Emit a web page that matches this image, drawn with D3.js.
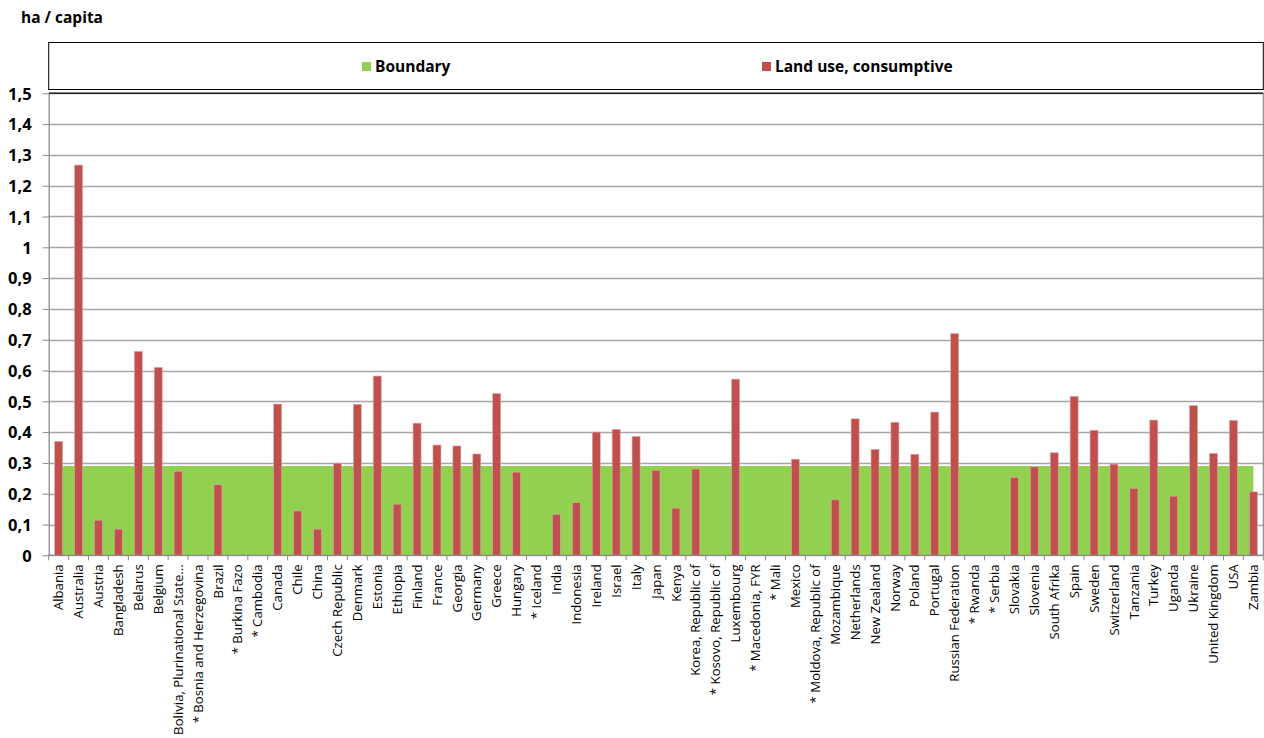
<!DOCTYPE html>
<html><head><meta charset="utf-8">
<script src="https://cdn.jsdelivr.net/npm/d3@7"></script>
<style>
body{margin:0;background:#fff;}
svg{display:block;font-family:"Open Sans",sans-serif;}
</style></head>
<body><svg id="chart" width="1264" height="738"></svg>
<script>
const categories = ["Albania","Australia","Austria","Bangladesh","Belarus","Belgium","Bolivia, Plurinational State...","* Bosnia and Herzegovina","Brazil","* Burkina Fazo","* Cambodia","Canada","Chile","China","Czech Republic","Denmark","Estonia","Ethiopia","Finland","France","Georgia","Germany","Greece","Hungary","* Iceland","India","Indonesia","Ireland","Israel","Italy","Japan","Kenya","Korea, Republic of","* Kosovo, Republic of","Luxembourg","* Macedonia, FYR","* Mali","Mexico","* Moldova, Republic of","Mozambique","Netherlands","New Zealand","Norway","Poland","Portugal","Russian Federation","* Rwanda","* Serbia","Slovakia","Slovenia","South Afrika","Spain","Sweden","Switzerland","Tanzania","Turkey","Uganda","Ukraine","United Kingdom","USA","Zambia"];
const landUse = [0.37,1.267,0.114,0.085,0.662,0.61,0.273,null,0.229,null,null,0.491,0.144,0.085,0.299,0.49,0.582,0.166,0.429,0.358,0.355,0.329,0.525,0.27,null,0.133,0.171,0.40,0.409,0.386,0.276,0.153,0.28,null,0.572,null,null,0.312,null,0.18,0.443,0.344,0.432,0.328,0.465,0.72,null,null,0.253,0.287,0.333,0.516,0.406,0.296,0.217,0.439,0.192,0.486,0.331,0.438,0.206];
const boundary = categories.map(() => 0.29);
const yTicks = [0,0.1,0.2,0.3,0.4,0.5,0.6,0.7,0.8,0.9,1,1.1,1.2,1.3,1.4,1.5];
const seriesNames = ["Boundary","Land use, consumptive"];
const colors = {boundary:"#92D050", land:"#C0504D"};

const svg = d3.select("#chart");
const L = 48.7, R = 1263.3, T = 93.3, B = 555.3;
const x = d3.scaleBand().domain(categories).range([L, R]).paddingInner(0).paddingOuter(0);
const y = d3.scaleLinear().domain([0, 1.5]).range([B, T]);
const fmt = v => String(v).replace(".", ",");

// title
svg.append("text").attr("x", 21).attr("y", 23).attr("font-size", 15.5).attr("font-weight", "bold").text("ha / capita");

// legend box
svg.append("rect").attr("x", L).attr("y", 42.5).attr("width", R - L).attr("height", 47)
  .attr("fill", "#fff").attr("stroke", "#000").attr("stroke-width", 1);
const legendItems = [{name: seriesNames[0], c: colors.boundary, x: 362},{name: seriesNames[1], c: colors.land, x: 762}];
legendItems.forEach(d => {
  svg.append("rect").attr("x", d.x).attr("y", 62).attr("width", 9).attr("height", 9).attr("fill", d.c);
  svg.append("text").attr("x", d.x + 13).attr("y", 72).attr("font-size", 15.5).attr("font-weight", "bold").text(d.name);
});

// gridlines
svg.append("g").selectAll("line").data(yTicks).join("line")
  .attr("x1", L).attr("x2", R).attr("y1", d => Math.round(y(d)) + 0.5).attr("y2", d => Math.round(y(d)) + 0.5)
  .attr("stroke", "#A6A6A6").attr("stroke-width", 1.5);

// boundary area
const area = d3.area().x((d, i) => x(categories[i]) + x.bandwidth() / 2).y0(y(0)).y1(d => y(d));
svg.append("path").datum(boundary).attr("d", area).attr("fill", colors.boundary);

// bars
const bw = 8;
svg.append("g").selectAll("rect").data(categories.map((c, i) => ({c, v: landUse[i]})).filter(d => d.v != null)).join("rect")
  .attr("x", d => x(d.c) + x.bandwidth() / 2 - bw / 2)
  .attr("width", bw)
  .attr("y", d => y(d.v))
  .attr("height", d => y(0) - y(d.v))
  .attr("fill", colors.land).attr("stroke", "#E0A8A6").attr("stroke-width", 0.6);

// plot border top/right
svg.append("line").attr("x1", L).attr("x2", R).attr("y1", T).attr("y2", T).attr("stroke", "#222").attr("stroke-width", 1.5);
svg.append("line").attr("x1", R).attr("x2", R).attr("y1", T).attr("y2", B).attr("stroke", "#777").attr("stroke-width", 1);

// y axis
const yAxis = svg.append("g").attr("transform", `translate(${L},0)`)
  .call(d3.axisLeft(y).tickValues(yTicks).tickFormat(fmt).tickSize(6).tickSizeOuter(0));
yAxis.select(".domain").attr("stroke", "#8C8C8C").attr("stroke-width", 1.3);
yAxis.selectAll(".tick line").attr("stroke", "#8C8C8C");
yAxis.selectAll(".tick text").attr("font-size", 16.5).attr("font-weight", "bold").attr("fill", "#000")
  .attr("font-family", "'Open Sans',sans-serif").attr("x", -17).attr("dy", "0.35em");

// x axis
const xg = svg.append("g").attr("transform", `translate(0,${B})`);
xg.append("line").attr("x1", L).attr("x2", R).attr("stroke", "#8C8C8C").attr("stroke-width", 1.3);
xg.selectAll("line.tk").data(d3.range(categories.length + 1)).join("line").attr("class", "tk")
  .attr("x1", i => L + i * x.step()).attr("x2", i => L + i * x.step()).attr("y1", 0).attr("y2", 5)
  .attr("stroke", "#8C8C8C");
xg.selectAll("text").data(categories).join("text")
  .attr("transform", d => `translate(${x(d) + x.bandwidth() / 2},9) rotate(-90)`)
  .attr("text-anchor", "end").attr("dy", "0.35em").attr("font-size", 13.2).attr("fill", "#000")
  .text(d => d);
</script></body></html>
